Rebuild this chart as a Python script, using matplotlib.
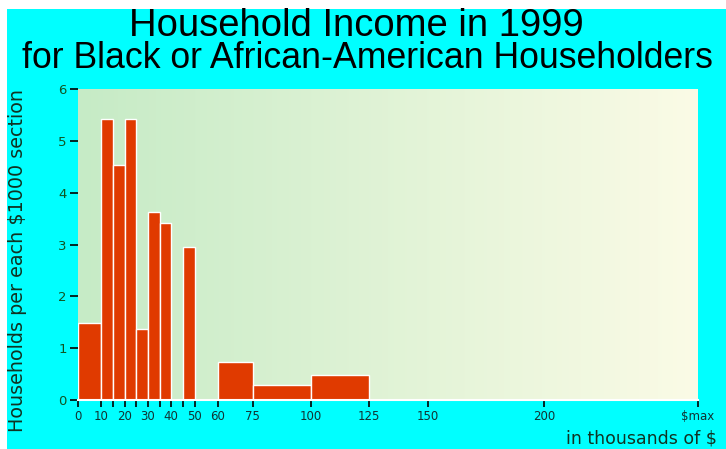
import numpy as np
import matplotlib
matplotlib.use("Agg")
import matplotlib.pyplot as plt
from matplotlib.patches import Rectangle
from matplotlib.colors import LinearSegmentedColormap

# Data
bin_edges = [0, 10, 15, 20, 25, 30, 35, 40, 45, 50, 60, 75, 100, 125, 150, 200, 266]
values = [1.48, 5.42, 4.54, 5.42, 1.37, 3.62, 3.41, 0, 2.96, 0, 0.74, 0.28, 0.48, 0, 0, 0]
tick_labels = ["0", "10", "", "20", "", "30", "", "40", "", "50", "60", "75",
               "100", "125", "150", "200", r"\$max"]
y_ticks = [0, 1, 2, 3, 4, 5, 6]

W, H = 726, 449
fig = plt.figure(figsize=(W / 100, H / 100), dpi=100)
fig.patch.set_facecolor("white")
fig.patches.append(Rectangle((7 / W, 0), 1 - 7 / W, 1 - 9 / H, transform=fig.transFigure,
                             facecolor="#00ffff", edgecolor="none", zorder=-10))

left, right, top, bottom = 78, 698, 89, 400
ax = fig.add_axes([left / W, 1 - bottom / H, (right - left) / W, (bottom - top) / H])
ax.set_xlim(bin_edges[0], bin_edges[-1])
ax.set_ylim(0, 6)

cmap = LinearSegmentedColormap.from_list("bg", ["#c6ebc6", "#fbfbe6"])
grad = np.linspace(0, 1, 256).reshape(1, -1)
ax.imshow(grad, cmap=cmap, aspect="auto", extent=[bin_edges[0], bin_edges[-1], 0, 6],
          zorder=0, interpolation="bicubic")

lefts = bin_edges[:-1]
widths = np.diff(bin_edges)
ax.bar(lefts, values, width=widths, align="edge", color="#e03a00",
       edgecolor="white", linewidth=1.0, zorder=2)

for s in ["top", "right", "left"]:
    ax.spines[s].set_visible(False)
ax.spines["bottom"].set_color("white")
ax.spines["bottom"].set_linewidth(1.5)

ax.set_xticks(bin_edges)
ax.set_xticklabels(tick_labels)
ax.set_yticks(y_ticks)
ax.tick_params(axis="x", length=5, width=1.2, color="black", pad=2,
               labelsize=8.5, labelcolor="#113333")
ax.tick_params(axis="y", length=6, width=1.2, color="black", pad=2,
               labelsize=9.5, labelcolor="#115522")

fig.text(18 / W, 1 - 260 / H, r"Households per each \$1000 section", rotation=90,
         ha="center", va="center", fontsize=13.8, color="#113322")
fig.text(717 / W, 1 - 438 / H, r"in thousands of \$", ha="right", va="center",
         fontsize=12.5, color="#113322")

fig.text(356 / W, 1 - 26 / H, "Household Income in 1999", ha="center", va="center",
         fontsize=27.5, family="Liberation Sans", color="black")
fig.text(367 / W, 1 - 58 / H, "for Black or African-American Householders", ha="center",
         va="center", fontsize=25.7, family="Liberation Sans", color="black")

fig.savefig("out.png", dpi=100, facecolor=fig.get_facecolor())
